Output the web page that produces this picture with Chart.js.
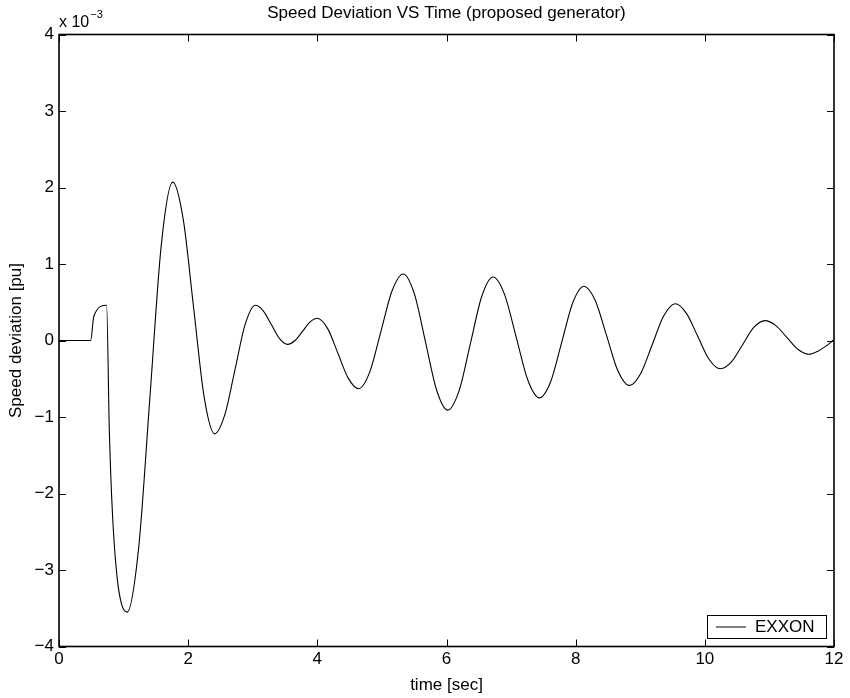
<!DOCTYPE html>
<html><head><meta charset="utf-8">
<script src="https://cdn.jsdelivr.net/npm/chart.js@4"></script>
<style>html,body{margin:0;padding:0;background:#fff;}#wrap{width:850px;height:698px;position:relative;}canvas{display:block;}</style>
</head><body><div id="wrap"><canvas id="c" width="850" height="698"></canvas></div>
<script>
// time axis [sec]
const timeSec = [0, 0.49, 0.54, 0.737, 0.78, 0.83, 0.90, 0.97, 1.055, 1.231, 1.408, 1.584, 1.76, 1.9225, 2.085, 2.2475, 2.41, 2.5675, 2.725, 2.8825, 3.04, 3.165, 3.29, 3.415, 3.54, 3.655, 3.77, 3.885, 4.00, 4.16, 4.32, 4.48, 4.64, 4.8125, 4.985, 5.1575, 5.33, 5.5025, 5.675, 5.8475, 6.02, 6.195, 6.37, 6.545, 6.72, 6.90, 7.08, 7.26, 7.44, 7.6125, 7.785, 7.9575, 8.13, 8.305, 8.48, 8.655, 8.83, 9.0075, 9.185, 9.3625, 9.54, 9.715, 9.89, 10.065, 10.24, 10.4125, 10.585, 10.7575, 10.93, 11.10, 11.27, 11.44, 11.61, 11.75, 11.88, 12.0];
// speed deviation [pu] in units of 1e-3 (EXXON)
const speedDevExxon = [0, 0, 0.32, 0.46, -1.2, -2.3, -3.1, -3.45, -3.55, -2.73, -0.74, 1.25, 2.07, 1.59, 0.425, -0.74, -1.22, -0.97, -0.38, 0.21, 0.46, 0.385, 0.205, 0.025, -0.05, 0.0, 0.12, 0.24, 0.29, 0.155, -0.17, -0.495, -0.63, -0.41, 0.12, 0.65, 0.87, 0.61, -0.02, -0.65, -0.91, -0.655, -0.04, 0.575, 0.83, 0.60, 0.04, -0.52, -0.75, -0.54, -0.02, 0.50, 0.71, 0.52, 0.06, -0.40, -0.59, -0.43, -0.055, 0.32, 0.48, 0.355, 0.055, -0.245, -0.37, -0.28, -0.055, 0.17, 0.26, 0.195, 0.04, -0.115, -0.18, -0.14, -0.07, 0.01];
const xTickValues = [0, 2, 4, 6, 8, 10, 12];
const xTickLabels = ['0', '2', '4', '6', '8', '10', '12'];
const yTickValues = [-4, -3, -2, -1, 0, 1, 2, 3, 4];
const yTickLabels = ['\u22124', '\u22123', '\u22122', '\u22121', '0', '1', '2', '3', '4'];
const seriesName = 'EXXON';
const chartTitle = 'Speed Deviation VS Time (proposed generator)';
const xTitle = 'time [sec]';
const yTitle = 'Speed deviation [pu]';

const FONT = '"Liberation Sans", Arial, Helvetica, sans-serif';
const FS = 17;

const points = timeSec.map((t, i) => ({x: t, y: speedDevExxon[i]}));

const framePlugin = {
  id: 'frame',
  afterDraw(chart) {
    const {ctx, chartArea: a, scales: {x, y}} = chart;
    ctx.save();
    ctx.strokeStyle = '#000';
    ctx.lineWidth = 1;
    const TL = 7;
    ctx.beginPath();
    xTickValues.forEach(v => {
      const px = Math.round(x.getPixelForValue(v)) + 0.5;
      ctx.moveTo(px, a.bottom); ctx.lineTo(px, a.bottom - TL);
      ctx.moveTo(px, a.top); ctx.lineTo(px, a.top + TL);
    });
    yTickValues.forEach(v => {
      const py = Math.round(y.getPixelForValue(v)) + 0.5;
      ctx.moveTo(a.left, py); ctx.lineTo(a.left + TL, py);
      ctx.moveTo(a.right, py); ctx.lineTo(a.right - TL, py);
    });
    ctx.stroke();
    ctx.lineWidth = 1.6;
    ctx.strokeRect(a.left, a.top, a.right - a.left, a.bottom - a.top);
    // title
    ctx.fillStyle = '#000';
    ctx.textAlign = 'center';
    ctx.textBaseline = 'middle';
    ctx.font = FS + 'px ' + FONT;
    ctx.fillText(chartTitle, (a.left + a.right) / 2, 13);
    // exponent label
    ctx.textAlign = 'left';
    ctx.textBaseline = 'alphabetic';
    ctx.font = '16px ' + FONT;
    ctx.fillText('x 10', a.left, 27);
    const w = ctx.measureText('x 10').width;
    ctx.font = '11px ' + FONT;
    ctx.fillText('\u22123', a.left + w + 1, 17.5);
    // legend
    const lx = 707, ly = 615, lw = 119, lh = 23;
    ctx.fillStyle = '#fff';
    ctx.fillRect(lx, ly, lw, lh);
    ctx.lineWidth = 1;
    ctx.strokeStyle = '#000';
    ctx.strokeRect(lx + 0.5, ly + 0.5, lw, lh);
    ctx.beginPath();
    ctx.moveTo(716, 627); ctx.lineTo(746, 627);
    ctx.stroke();
    ctx.fillStyle = '#000';
    ctx.font = FS + 'px ' + FONT;
    ctx.textBaseline = 'middle';
    ctx.fillText(seriesName, 755, 627);
    ctx.restore();
  }
};

new Chart(document.getElementById('c'), {
  type: 'line',
  data: {datasets: [{label: seriesName, data: points, borderColor: '#000', borderWidth: 1.1, pointRadius: 0, fill: false, cubicInterpolationMode: 'monotone'}]},
  options: {
    responsive: false, animation: false, devicePixelRatio: 1,
    layout: {padding: {left: 0, right: 16, top: 34.5, bottom: 0}},
    plugins: {legend: {display: false}, tooltip: {enabled: false}, title: {display: false}},
    scales: {
      x: {
        type: 'linear', min: 0, max: 12,
        afterBuildTicks: s => { s.ticks = xTickValues.map(v => ({value: v})); },
        ticks: {color: '#000', font: {family: FONT, size: FS}, padding: 3, maxRotation: 0,
          callback: v => { const i = xTickValues.indexOf(v); return i >= 0 ? xTickLabels[i] : ''; }},
        grid: {display: false, drawTicks: false, tickLength: 0},
        border: {display: false},
        title: {display: true, text: xTitle, color: '#000', font: {family: FONT, size: FS}, padding: {top: 0, bottom: 2}},
        afterFit: s => { s.height = 51.5; }
      },
      y: {
        type: 'linear', min: -4, max: 4,
        afterBuildTicks: s => { s.ticks = yTickValues.map(v => ({value: v})); },
        ticks: {color: '#000', font: {family: FONT, size: FS}, padding: 5,
          callback: v => { const i = yTickValues.indexOf(v); return i >= 0 ? yTickLabels[i] : ''; }},
        grid: {display: false, drawTicks: false, tickLength: 0},
        border: {display: false},
        title: {display: true, text: yTitle, color: '#000', font: {family: FONT, size: FS}, padding: {top: 6, bottom: 0}},
        afterFit: s => { s.width = 59; }
      }
    }
  },
  plugins: [framePlugin]
});
</script></body></html>
